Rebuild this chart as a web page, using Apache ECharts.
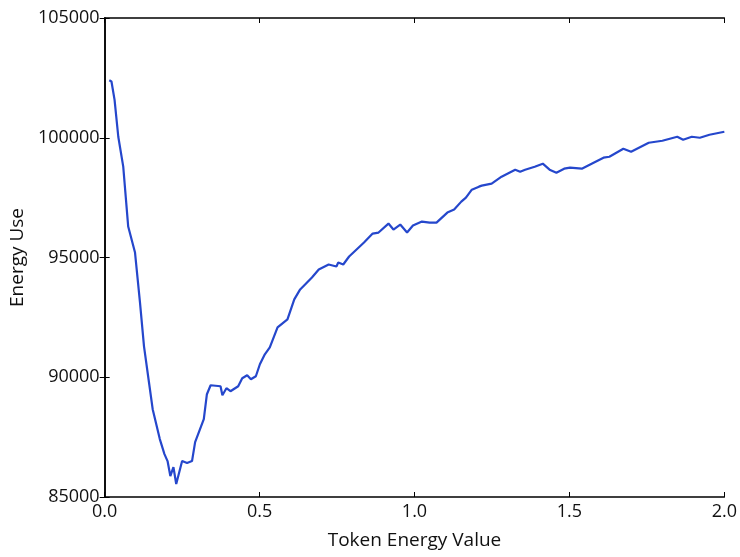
<!DOCTYPE html>
<html>
<head>
<meta charset="utf-8">
<script src="https://cdn.jsdelivr.net/npm/echarts@6/dist/echarts.min.js"></script>
<style>html,body{margin:0;padding:0;background:#fff}#c{width:740px;height:557px}</style>
</head>
<body>
<div id="c"></div>
<script>
var xValues = [0.015,0.022,0.032,0.044,0.060,0.076,0.098,0.114,0.127,0.143,0.155,0.178,0.193,0.203,0.212,0.222,0.231,0.250,0.266,0.282,0.292,0.320,0.330,0.342,0.374,0.380,0.393,0.406,0.431,0.444,0.460,0.472,0.488,0.501,0.517,0.533,0.558,0.590,0.612,0.631,0.669,0.691,0.723,0.748,0.754,0.770,0.789,0.837,0.865,0.884,0.916,0.932,0.954,0.976,0.995,1.024,1.049,1.071,1.106,1.128,1.151,1.166,1.185,1.208,1.217,1.249,1.281,1.325,1.341,1.357,1.388,1.414,1.436,1.458,1.483,1.502,1.540,1.578,1.610,1.629,1.674,1.699,1.756,1.800,1.848,1.867,1.895,1.921,1.952,2.0];
var energyUse = [102400,102350,101583,100042,98792,96292,95208,93125,91292,89792,88667,87417,86792,86500,85875,86250,85542,86500,86417,86500,87292,88250,89292,89667,89625,89250,89542,89417,89625,89958,90083,89917,90042,90542,90958,91250,92083,92417,93250,93667,94167,94500,94708,94625,94792,94708,95042,95625,96000,96042,96417,96167,96375,96042,96333,96500,96458,96458,96875,97000,97333,97500,97833,97958,98000,98083,98375,98667,98583,98667,98792,98917,98667,98542,98708,98750,98708,98958,99167,99208,99542,99417,99792,99875,100042,99917,100042,100000,100125,100250];
var xTicks = ['0.0','0.5','1.0','1.5','2.0'];
var yTicks = ['85000','90000','95000','100000','105000'];

var chart = echarts.init(document.getElementById('c'), null, {renderer:'canvas'});
var font = '"Open Sans", "Noto Sans", sans-serif';
var lineData = xValues.map(function(x,i){return [x, energyUse[i]];});
var baseAxisX = {type:'value', min:0, max:2, interval:0.5,
  axisLine:{show:true, lineStyle:{color:'#000', width:1.5}},
  axisTick:{show:true, inside:true, length:5, lineStyle:{color:'#000'}},
  splitLine:{show:false}};
var baseAxisY = {type:'value', min:85000, max:105000, interval:5000,
  axisLine:{show:true, lineStyle:{color:'#000', width:1.5}},
  axisTick:{show:true, inside:true, length:5, lineStyle:{color:'#000'}},
  splitLine:{show:false}};
chart.setOption({
  animation:false,
  backgroundColor:'#fff',
  grid:{left:101, right:10, top:18, bottom:60, containLabel:false},
  xAxis:[
    Object.assign({}, baseAxisX, {position:'bottom',
      name:'Token Energy Value', nameLocation:'middle', nameGap:34,
      nameTextStyle:{fontFamily:font, fontSize:19, color:'#111'},
      axisLabel:{fontFamily:font, fontSize:18, color:'#111', margin:6,
        formatter:function(v){return xTicks[Math.round(v/0.5)];}}}),
    Object.assign({}, baseAxisX, {position:'top', axisLabel:{show:false}})
  ],
  yAxis:[
    Object.assign({}, baseAxisY, {position:'left',
      name:'Energy Use', nameLocation:'middle', nameGap:74,
      nameTextStyle:{fontFamily:font, fontSize:19, color:'#111'},
      axisLabel:{fontFamily:font, fontSize:18, color:'#111', margin:5,
        formatter:function(v){return yTicks[Math.round((v-85000)/5000)];}}}),
    Object.assign({}, baseAxisY, {position:'right', axisLabel:{show:false}})
  ],
  series:[{type:'line', data:lineData, showSymbol:false, symbol:'none',
    lineStyle:{color:'#2547cc', width:2.2}, xAxisIndex:0, yAxisIndex:0}]
});
</script>
</body>
</html>
